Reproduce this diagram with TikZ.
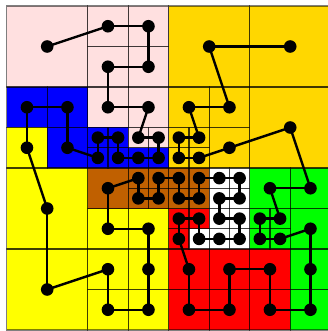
\documentclass[tikz,border=0pt]{standalone}
\definecolor{pinkc}{RGB}{255,224,224}
\definecolor{bluec}{RGB}{0,0,255}
\definecolor{yellowc}{RGB}{255,255,0}
\definecolor{goldc}{RGB}{255,215,0}
\definecolor{brownc}{RGB}{192,96,0}
\definecolor{redc}{RGB}{255,0,0}
\definecolor{greenc}{RGB}{0,255,0}
\begin{document}
\begin{tikzpicture}[x=1pt,y=-1pt,
  gridline/.style={draw=black,draw opacity=0.5,line width=1.2},
  curve/.style={draw=black,line width=2.4,line cap=round},
  dot/.style={circle,fill=black,inner sep=0pt,minimum size=12.6}]
\useasboundingbox (0,0) rectangle (327,331);
\def\X{6.7}\def\Y{6}\def\S{40.5}
\def\leaves{d1/0/0/2/pinkc, d2/2/0/1/pinkc, d3/3/0/1/pinkc, d4/3/1/1/pinkc, d5/2/1/1/pinkc,
 d6/2/2/1/pinkc, d7/3/2/1/pinkc, d8/3/3/.5/pinkc, d9/3.5/3/.5/pinkc, d10/3.5/3.5/.5/bluec,
 d11/3/3.5/.5/bluec, d12/2.5/3.5/.5/bluec, d13/2.5/3/.5/bluec, d14/2/3/.5/bluec, d15/2/3.5/.5/bluec,
 d16/1/3/1/bluec, d17/1/2/1/bluec, d18/0/2/1/bluec, d19/0/3/1/yellowc, d20/0/4/2/yellowc,
 d21/0/6/2/yellowc, d22/2/6/1/yellowc, d23/2/7/1/yellowc, d24/3/7/1/yellowc, d25/3/6/1/yellowc,
 d26/3/5/1/yellowc, d27/2/5/1/yellowc, d28/2/4/1/brownc, d29/3/4/.5/brownc, d30/3/4.5/.5/brownc,
 d31/3.5/4.5/.5/brownc, d32/3.5/4/.5/brownc, d33/4/4/.5/brownc, d34/4/4.5/.5/brownc, d35/4.5/4.5/.5/brownc,
 d36/4.5/4/.5/brownc, d37/5/4/.5/white, d38/5.5/4/.5/white, d39/5.5/4.5/.5/white, d40/5/4.5/.5/white,
 d41/5/5/.5/white, d42/5.5/5/.5/white, d43/5.5/5.5/.5/white, d44/5/5.5/.5/white, d45/4.5/5.5/.5/white,
 d46/4.5/5/.5/redc, d47/4/5/.5/redc, d48/4/5.5/.5/redc, d49/4/6/1/redc, d50/4/7/1/redc,
 d51/5/7/1/redc, d52/5/6/1/redc, d53/6/6/1/redc, d54/6/7/1/redc, d55/7/7/1/greenc,
 d56/7/6/1/greenc, d57/7/5/1/greenc, d58/6.5/5.5/.5/greenc, d59/6/5.5/.5/greenc, d60/6/5/.5/greenc,
 d61/6.5/5/.5/greenc, d62/6/4/1/greenc, d63/7/4/1/greenc, d64/6/2/2/goldc, d65/5/3/1/goldc,
 d66/4.5/3.5/.5/goldc, d67/4/3.5/.5/goldc, d68/4/3/.5/goldc, d69/4.5/3/.5/goldc, d70/4/2/1/goldc,
 d71/5/2/1/goldc, d72/4/0/2/goldc, d73/6/0/2/goldc}
% cell fills
\foreach \n/\c/\r/\s/\col in \leaves
  \fill[fill=\col] ({\X+\c*\S},{\Y+\r*\S}) rectangle ({\X+(\c+\s)*\S},{\Y+(\r+\s)*\S});
% cell borders
\foreach \n/\c/\r/\s/\col in \leaves
  \draw[gridline] ({\X+\c*\S},{\Y+\r*\S}) rectangle ({\X+(\c+\s)*\S},{\Y+(\r+\s)*\S});
% dots
\foreach \n/\c/\r/\s/\col in \leaves
  \node[dot] (\n) at ({\X+(\c+\s/2)*\S},{\Y+(\r+\s/2)*\S}) {};
% curve
\foreach \i [remember=\i as \j (initially 1)] in {2,...,73}
  \draw[curve] (d\j.center) -- (d\i.center);
\end{tikzpicture}
\end{document}
